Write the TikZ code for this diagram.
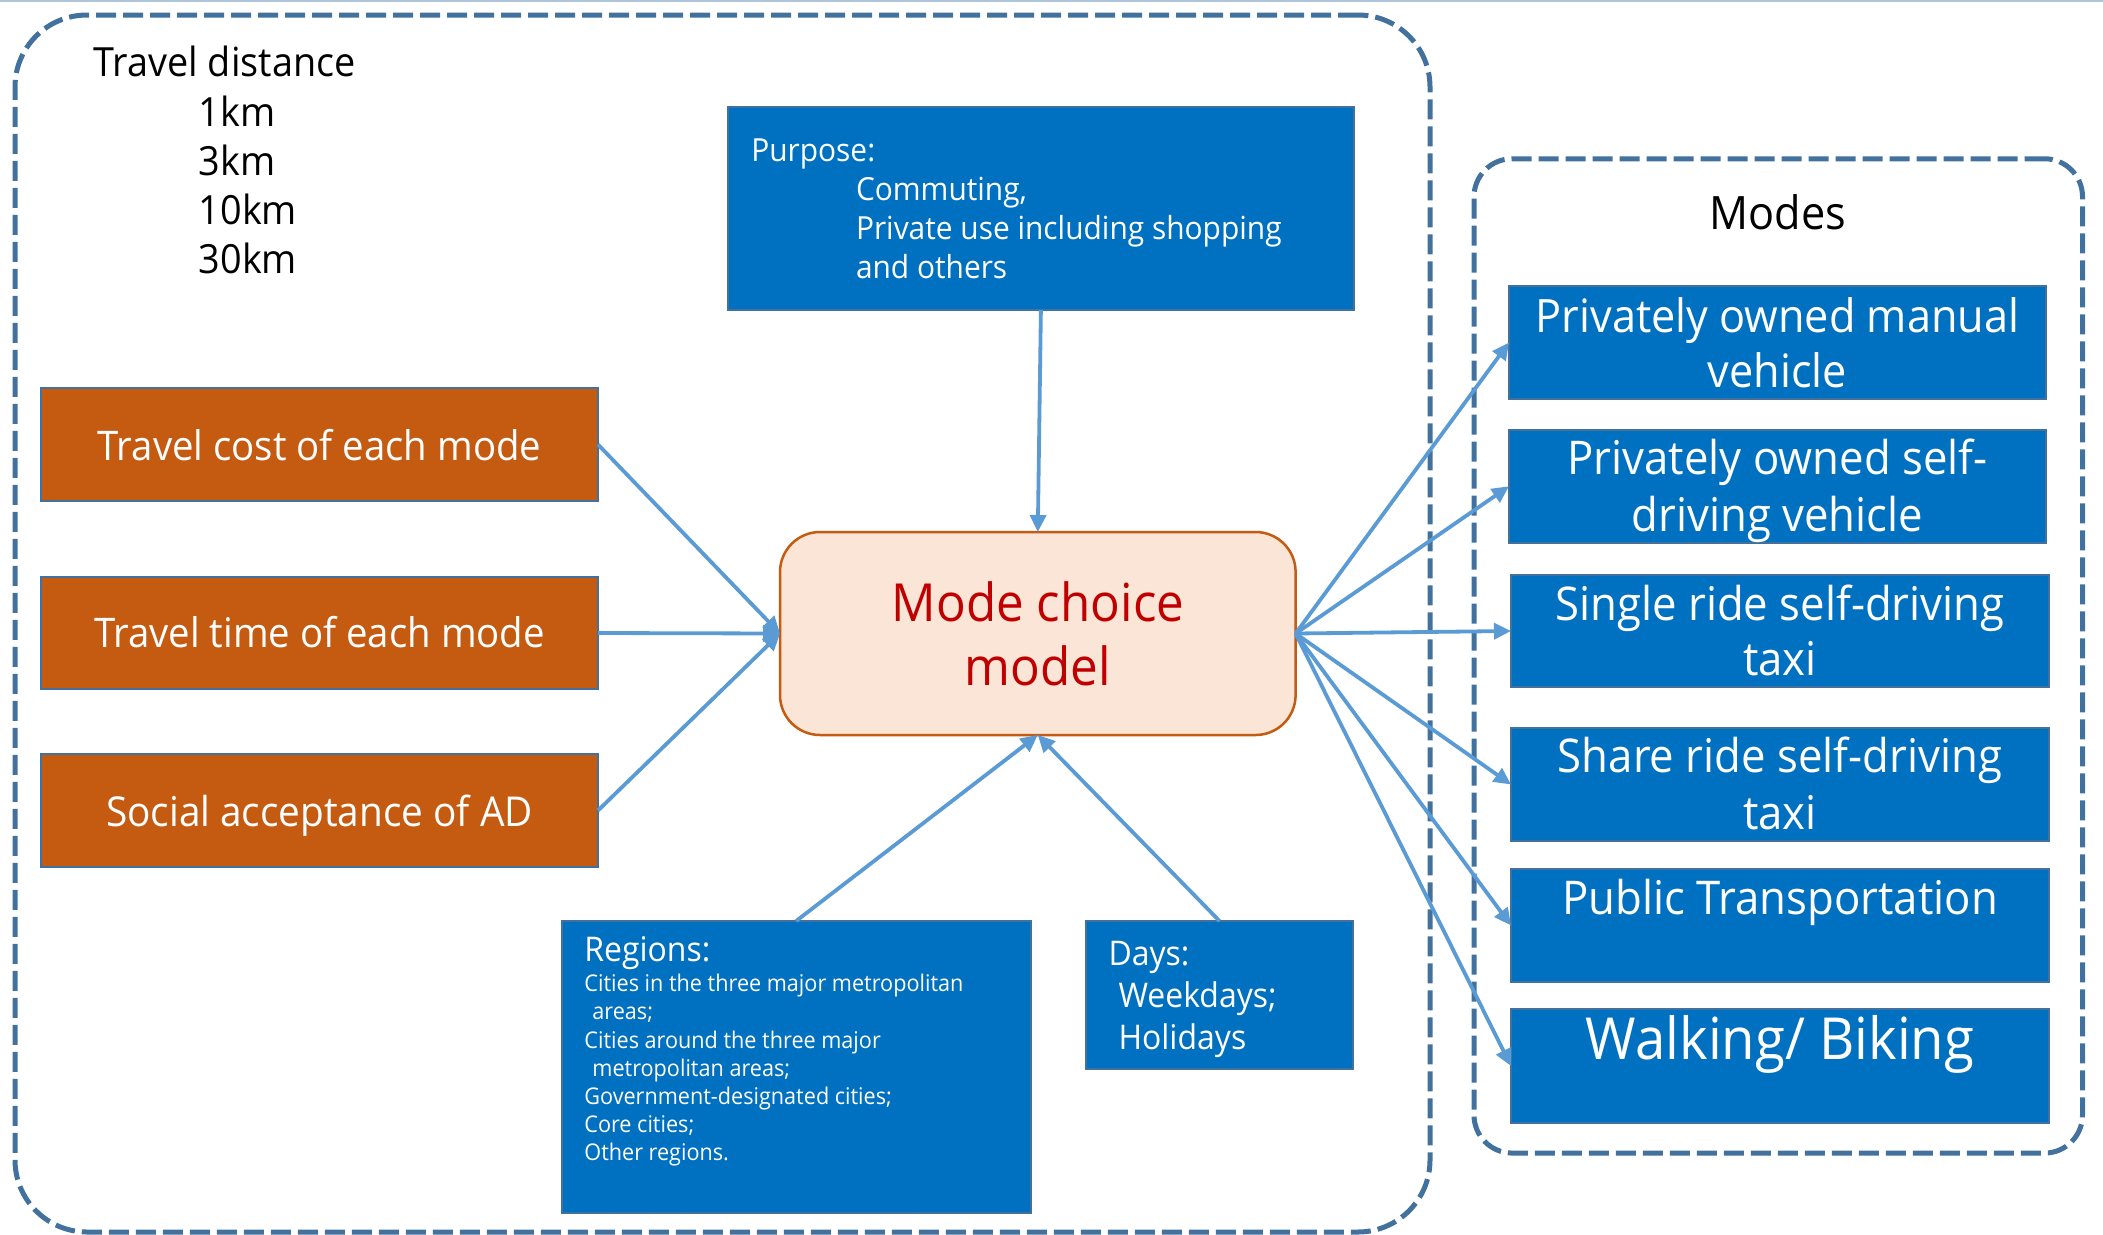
\documentclass[tikz,border=0pt]{standalone}
\usepackage{fontspec}
\setmainfont{Open Sans}[FakeStretch=0.94]
\usetikzlibrary{arrows.meta}
\definecolor{dashblue}{RGB}{65,113,156}
\definecolor{boxblue}{RGB}{0,112,192}
\definecolor{boxedge}{RGB}{65,113,156}
\definecolor{boxorange}{RGB}{197,90,17}
\definecolor{modelfill}{RGB}{251,229,214}
\definecolor{modelred}{RGB}{192,0,0}
\definecolor{connblue}{RGB}{91,155,213}
\definecolor{toplinecol}{RGB}{176,196,218}
\newcommand\mlines[2]{\begin{tabular}[t]{@{}#1@{}}#2\end{tabular}}
\newcommand\fsz[2]{\fontsize{#1}{#2}\selectfont}
\begin{document}
\begin{tikzpicture}[x=1pt,y=-1pt,
  frame/.style={draw=dashblue, line width=5pt, dash pattern=on 20pt off 7pt, inner sep=0pt, outer sep=0pt},
  bluebox/.style={draw=boxedge, line width=2pt, fill=boxblue, inner sep=0pt, outer sep=0pt},
  orangebox/.style={draw=boxedge, line width=2pt, fill=boxorange, inner sep=0pt, outer sep=0pt},
  modelbox/.style={draw=boxorange, line width=2.5pt, fill=modelfill, rounded corners=40pt, inner sep=0pt, outer sep=0pt},
  conn/.style={draw=connblue, line width=3.8pt, -{Triangle[length=17pt,width=16pt]}},
  wtxt/.style={text=white, inner sep=0pt, outer sep=0pt},
  btxt/.style={text=black, inner sep=0pt, outer sep=0pt},
  modebox/.style={bluebox, minimum width=538pt, minimum height=113pt}
]
\useasboundingbox (0,0) rectangle (2103,1234);
\draw[draw=toplinecol, line width=1.5pt] (0,0.75) -- (2103,0.75);

% frames
\node[frame, rounded corners=72pt, minimum width=1415pt, minimum height=1217pt] (outer) at (722.5,623.5) {};
\node[frame, rounded corners=38pt, minimum width=608.5pt, minimum height=994.3pt] (modesframe) at (1778.25,655.9) {};

% boxes
\node[bluebox, minimum width=626.3pt, minimum height=203.3pt] (purpose) at (1040.9,208.3) {};
\node[orangebox, minimum width=557pt, minimum height=113pt] (cost) at (319.5,444.5) {};
\node[orangebox, minimum width=557pt, minimum height=112pt] (time) at (319.5,633) {};
\node[orangebox, minimum width=557pt, minimum height=113pt] (social) at (319.5,810.5) {};
\node[modelbox, minimum width=515.6pt, minimum height=203pt] (model) at (1037.8,633.5) {};
\node[bluebox, minimum width=468.8pt, minimum height=292pt] (regions) at (796.1,1067) {};
\node[bluebox, minimum width=267pt, minimum height=148pt] (days) at (1219.5,995) {};

\node[modebox, minimum width=537pt] (mA) at (1777.5,342.5) {};
\node[modebox, minimum width=537pt, minimum height=112.5pt] (mB) at (1777.5,486.25) {};
\node[modebox, minimum height=112pt] (mC) at (1780,631) {};
\node[modebox] (mD) at (1780,784.5) {};
\node[modebox] (mE) at (1780,925.5) {};
\node[modebox, minimum height=114pt] (mF) at (1780,1066) {};

% connectors
\draw[conn] (cost.east) -- (model.west);
\draw[conn] (time.east) -- (model.west);
\draw[conn] (social.east) -- (model.west);
\draw[conn] (purpose.south) -- (model.north);
\draw[conn] (regions.north) -- (model.south);
\draw[conn] (days.north) -- (model.south);
\foreach \m in {mA,mB,mC,mD,mE,mF} \draw[conn] (model.east) -- (\m.west);

% texts
\node[btxt, anchor=base west] (dist) at (93.8,76.7) {\fsz{40.2}{49.3}\mlines{l}{Travel distance\\\hspace{105pt}1km\\\hspace{105pt}3km\\\hspace{105pt}10km\\\hspace{105pt}30km}};
\node[wtxt, anchor=base west] (purposeT) at (751.3,161.7) {\fsz{31.8}{38.8}\mlines{l}{Purpose:\\\hspace{104.7pt}Commuting,\\\hspace{104.7pt}Private use including shopping\\\hspace{104.7pt}and others}};
\node[wtxt, anchor=base] (costT) at (319.5,460) {\fsz{40.8}{48}Travel cost of each mode};
\node[wtxt, anchor=base] (timeT) at (319.5,647) {\fsz{40.8}{48}Travel time of each mode};
\node[wtxt, anchor=base] (socialT) at (319.5,826) {\fsz{41.2}{48}Social acceptance of AD};
\node[text=modelred, inner sep=0pt, anchor=base] (modelT) at (1038,621.7) {\fsz{52.5}{63.3}\mlines{c}{Mode choice\\model}};
\node[wtxt, anchor=base west] (regionsH) at (584.4,961) {\fsz{34}{40}Regions:};
\node[wtxt, anchor=base west] (regionsL) at (584.4,991.7) {\fsz{23}{28.2}\mlines{l}{Cities in the three major metropolitan\\\hspace{8pt}areas;\\Cities around the three major\\\hspace{8pt}metropolitan areas;\\Government-designated cities;\\Core cities;\\Other regions.}};
\node[wtxt, anchor=base west] (daysT) at (1108.5,965) {\fsz{34}{42}\mlines{l}{Days:\\\hspace{10pt}Weekdays;\\\hspace{10pt}Holidays}};
\node[btxt, anchor=base] (modesT) at (1778,229.5) {\fsz{46}{50}Modes};
\node[wtxt, anchor=base] (mAT) at (1777.5,332) {\fsz{46}{55}\mlines{c}{Privately owned manual\\vehicle}};
\node[wtxt, anchor=base] (mBT) at (1777.5,474) {\fsz{46.5}{57}\mlines{c}{Privately owned self-\\driving vehicle}};
\node[wtxt, anchor=base] (mCT) at (1780,620) {\fsz{46.5}{55.5}\mlines{c}{Single ride self-driving\\taxi}};
\node[wtxt, anchor=base] (mDT) at (1780,772.5) {\fsz{46.5}{56.5}\mlines{c}{Share ride self-driving\\taxi}};
\node[wtxt, anchor=base] (mET) at (1780,914) {\fsz{46.5}{55}Public Transportation};
\node[wtxt, anchor=base] (mFT) at (1780,1059) {\fsz{58}{64}Walking/ Biking};
\end{tikzpicture}
\end{document}
